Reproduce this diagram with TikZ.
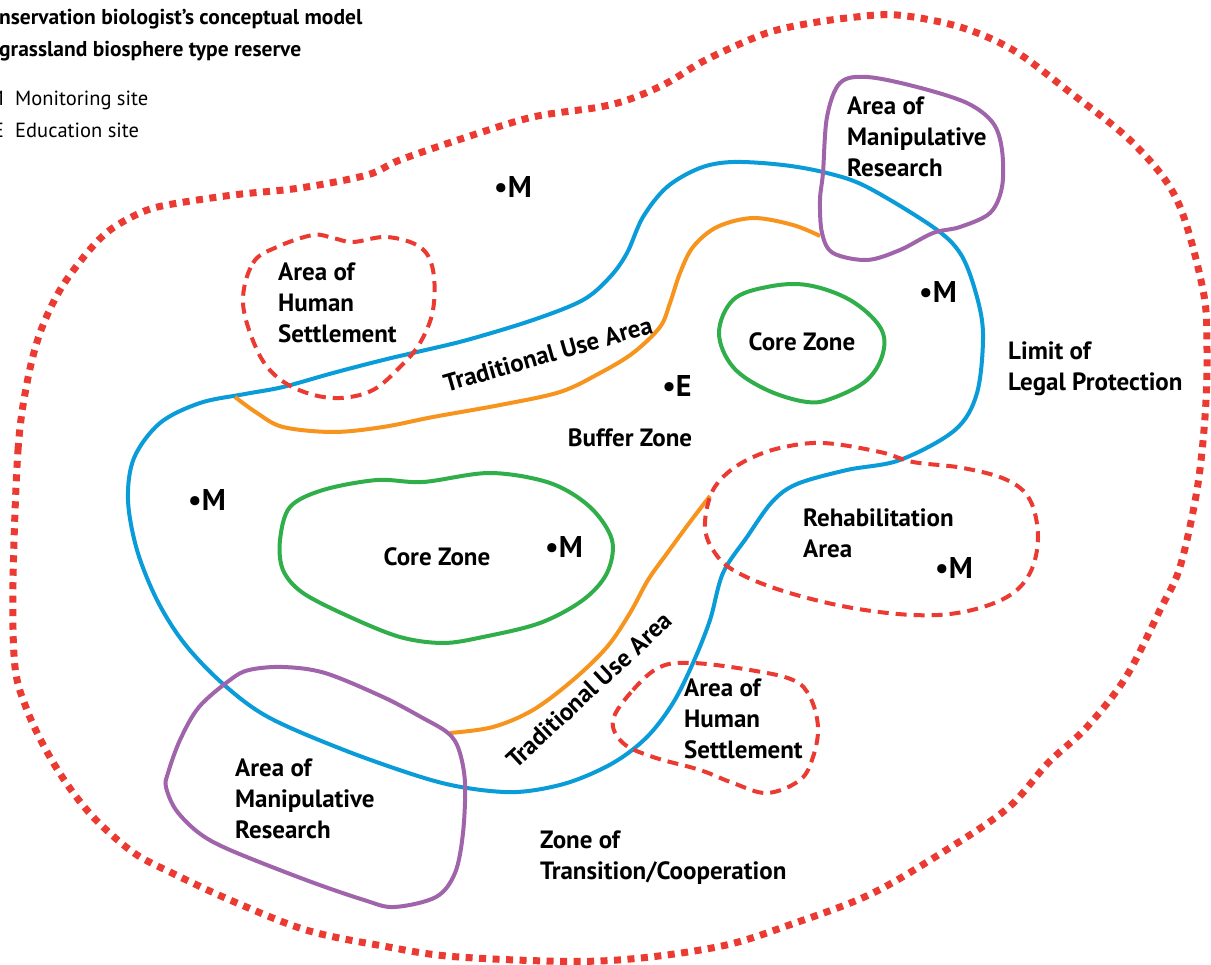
\documentclass[tikz,border=0pt]{standalone}
\usepackage{fontspec}
\setmainfont{PT Sans}
\definecolor{cred}{HTML}{EB3A32}
\definecolor{cblue}{HTML}{0A9BD9}
\definecolor{corange}{HTML}{F7941E}
\definecolor{cgreen}{HTML}{2FAE4A}
\definecolor{cpurple}{HTML}{A064AA}
\tikzset{
  outerdot/.style={draw=cred, line width=7pt, dash pattern=on 7pt off 6.5pt},
  settle/.style={draw=cred, line width=4pt, dash pattern=on 11pt off 7pt},
  bufline/.style={draw=cblue, line width=4pt},
  tradline/.style={draw=corange, line width=4pt},
  coreline/.style={draw=cgreen, line width=4pt},
  resline/.style={draw=cpurple, line width=4pt},
  lbl/.style={font=\fontsize{25}{31}\selectfont\bfseries, align=left, inner sep=0pt, anchor=west},
  lblc/.style={font=\fontsize{25}{31}\selectfont\bfseries, inner sep=0pt},
  site/.style={font=\fontsize{30}{32}\selectfont\bfseries, inner sep=0pt},
  ttl/.style={font=\fontsize{21.5}{24}\selectfont\bfseries, inner sep=0pt, anchor=base west},
  leg/.style={font=\fontsize{20.5}{24}\selectfont, inner sep=0pt},
}
\begin{document}
\begin{tikzpicture}[x=1pt, y=-1pt]
\useasboundingbox (0,0) rectangle (1211,965);
\clip (0,0) rectangle (1211,965);
\fill[white] (0,0) rectangle (1211,965);

% outer limit of legal protection
\draw[outerdot] plot[smooth cycle, tension=0.55] coordinates {
 (13,583) (18,450) (27,383) (40,333) (60,290) (87,253) (110,230) (140,213) (167,205)
 (233,195) (300,188) (367,175) (400,160) (467,137) (533,117) (600,107) (633,98) (667,83)
 (700,63) (733,47) (767,33) (800,25) (847,18) (897,15) (960,27) (1013,50) (1067,90)
 (1133,143) (1177,200) (1203,290) (1207,350) (1205,417) (1197,490) (1180,567) (1160,610)
 (1126,677) (1087,727) (1048,763) (1009,807) (951,847) (873,893) (795,923) (717,947)
 (600,961) (459,957) (383,946) (306,930) (230,900) (172,873) (134,853) (96,820) (69,787)
 (46,750) (27,710) (15,667)};

% buffer zone boundary
\draw[bufline] plot[smooth cycle, tension=0.55] coordinates {
 (245,394) (283,387) (333,373) (383,360) (417,352) (467,340) (533,320) (583,300) (610,277)
 (627,253) (643,217) (667,187) (700,168) (733,162) (783,165) (827,173) (867,187) (933,227)
 (960,253) (975,290) (983,333) (977,393) (955,430) (900,460) (847,470) (797,484) (772,502)
 (747,537) (723,573) (710,620) (693,663) (673,703) (647,737) (613,763) (567,783) (517,792)
 (467,788) (421,777) (344,750) (268,717) (222,683) (184,643) (157,600) (137,550) (128,500)
 (134,458) (160,423) (200,403)};

% traditional use area boundaries
\draw[tradline] plot[smooth, tension=0.55] coordinates {
 (235,397) (257,413) (283,427) (333,432) (383,427) (433,417) (500,405) (560,392) (600,373)
 (633,353) (660,327) (670,303) (680,273) (693,247) (717,227) (753,218) (793,225) (820,236)};
\draw[tradline] plot[smooth, tension=0.55] coordinates {
 (710,496) (690,522) (668,552) (648,580) (630,613) (607,647) (573,680) (533,710) (493,727) (450,733)};

% core zones
\draw[coreline] plot[smooth cycle, tension=0.6] coordinates {
 (719,333) (733,300) (767,287) (807,285) (850,300) (880,327) (883,353) (867,380) (833,398)
 (807,402) (767,390) (733,367)};
\draw[coreline] plot[smooth cycle, tension=0.55] coordinates {
 (280,540) (290,507) (323,490) (377,480) (423,482) (490,473) (550,483) (590,507) (612,540)
 (607,573) (583,600) (540,623) (483,637) (443,643) (400,637) (350,617) (303,593) (283,570)};

% areas of manipulative research
\draw[resline] plot[smooth cycle, tension=0.55] coordinates {
 (823,173) (827,117) (840,83) (867,77) (917,87) (967,103) (993,123) (1002,150) (1002,187)
 (990,213) (960,227) (933,233) (900,250) (867,260) (833,253) (822,233) (820,200)};
\draw[resline] plot[smooth cycle, tension=0.55] coordinates {
 (168,773) (180,740) (199,707) (230,680) (249,670) (283,667) (325,673) (383,697) (421,717)
 (448,733) (459,750) (465,783) (463,833) (455,873) (436,897) (394,907) (364,900) (306,880)
 (230,850) (199,833) (176,810) (166,787)};

% areas of human settlement and rehabilitation
\draw[settle] plot[smooth cycle, tension=0.6] coordinates {
 (243,303) (253,263) (277,247) (313,235) (333,238) (353,242) (387,237) (420,247) (433,270)
 (433,310) (420,343) (400,367) (373,390) (340,398) (307,393) (277,377) (257,350)};
\draw[settle] plot[smooth cycle, tension=0.6] coordinates {
 (613,720) (633,690) (660,667) (693,663) (750,670) (793,680) (810,697) (818,727) (813,757)
 (800,780) (767,793) (733,783) (700,770) (653,757) (623,743)};
\draw[settle] plot[smooth cycle, tension=0.6] coordinates {
 (710,497) (723,477) (747,460) (780,448) (823,443) (880,452) (913,462) (963,468) (1007,480)
 (1030,500) (1038,537) (1030,573) (1007,597) (963,612) (913,615) (847,607) (780,590)
 (733,570) (713,550) (705,527)};

% title and legend
\node[ttl] (t1) at (-1,25) {nservation biologist’s conceptual model};
\node[ttl] (t2) at (-1,57) {grassland biosphere type reserve};
\node[leg, anchor=base east] (lm) at (4,106) {M};
\node[leg, anchor=base west] (lmt) at (15,106) {Monitoring site};
\node[leg, anchor=base east] (le) at (4,138) {E};
\node[leg, anchor=base west] (let) at (15,138) {Education site};

% labels
\node[lbl] (hs1) at (278,303) {Area of\\Human\\Settlement};
\node[lbl] (mr1) at (847,137) {Area of\\Manipulative\\Research};
\node[lbl] (lim) at (1008,369) {Limit of\\Legal Protection};
\node[lbl] (reh) at (803,533) {Rehabilitation\\Area};
\node[lbl] (hs2) at (684,719) {Area of\\Human\\Settlement};
\node[lbl] (mr2) at (235,799) {Area of\\Manipulative\\Research};
\node[lbl] (zt) at (540,858) {Zone of\\Transition/Cooperation};
\node[lblc] (cz1) at (802,342) {Core Zone};
\node[lblc] (cz2) at (437,557) {Core Zone};
\node[lblc] (bz) at (630,438) {Buffer Zone};
\node[lblc, rotate=16] (tu1) at (548,354) {Traditional Use Area};
\node[lblc, rotate=43] (tu2) at (589,690) {Traditional Use Area};

% sites
\node[site] (m1) at (513,187) {•M};
\node[site] (m2) at (207,500) {•M};
\node[site] (m3) at (564,547) {•M};
\node[site] (m4) at (938,292) {•M};
\node[site] (m5) at (954,568) {•M};
\node[site] (e1) at (677,386) {•E};
\end{tikzpicture}
\end{document}
